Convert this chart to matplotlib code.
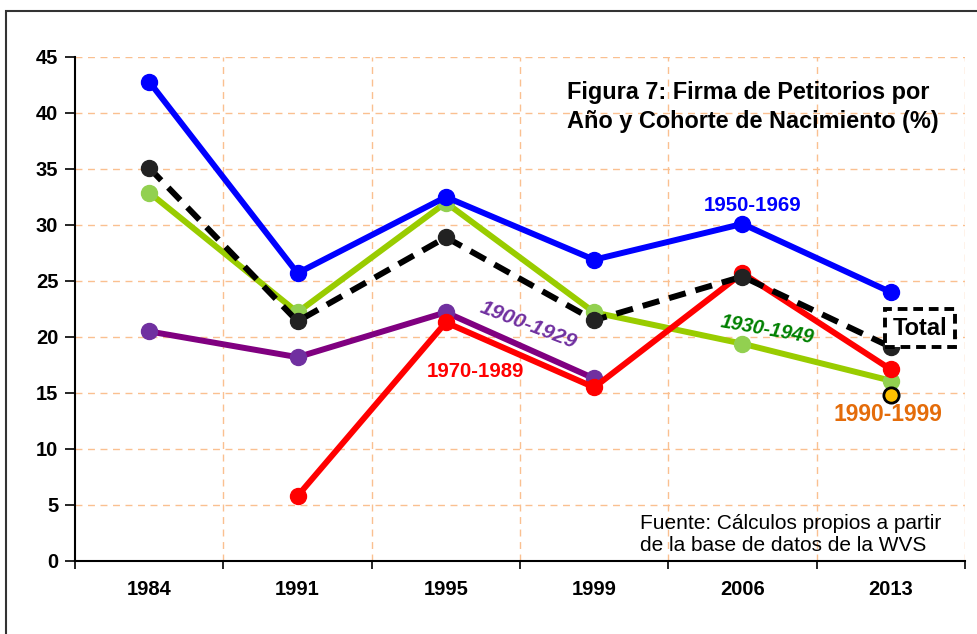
import matplotlib
matplotlib.use("Agg")
import matplotlib.pyplot as plt
import numpy as np
from matplotlib.patches import Rectangle

plt.rcParams['font.family'] = ['Liberation Sans', 'DejaVu Sans']

years = ["1984", "1991", "1995", "1999", "2006", "2013"]
c1950 = [42.8, 25.7, 32.5, 26.9, 30.1, 24.0]
total = [35.1, 21.4, 28.9, 21.5, 25.4, 19.1]
c1930 = [32.9, 22.2, 32.0, 22.2, 19.4, 16.1]
c1900 = [20.5, 18.2, 22.2, 16.3, None, None]
c1970 = [None, 5.8, 21.3, 15.5, 25.7, 17.1]
c1990 = [None, None, None, None, None, 14.8]

def arr(v):
    return np.array([np.nan if x is None else x for x in v], dtype=float)

fig = plt.figure(figsize=(9.77, 6.34), dpi=100)
ax = fig.add_axes([75/977, 1-561/634, (965-75)/977, (561-57)/634])

x = np.arange(len(years))
lw = 4.3
ms = 11.5
ax.plot(x, arr(c1900), color='#800080', lw=lw, marker='o', ms=ms, mfc='#7030A0', mec='#7030A0', zorder=3)
ax.plot(x, arr(c1970), color='#FF0000', lw=lw, marker='o', ms=ms, mfc='#FF0000', mec='#FF0000', zorder=4)
ax.plot(x, arr(c1930), color='#99CC00', lw=lw, marker='o', ms=ms, mfc='#92D050', mec='#92D050', zorder=3)
ax.plot(x, arr(total), color='#000000', lw=4.3, ls=(0, (2.9, 1.7)), marker='o', ms=ms, mfc='#222222', mec='#222222', zorder=5)
ax.plot(x, arr(c1950), color='#0000FF', lw=lw, marker='o', ms=ms, mfc='#0000FF', mec='#0000FF', zorder=6)
ax.plot(x, arr(c1990), ls='none', marker='o', ms=11, mfc='#FFC000', mec='#000000', mew=2, zorder=7)

ax.set_xlim(-0.5, 5.5)
ax.set_ylim(0, 45)
ax.set_yticks(np.arange(0, 46, 5))
ax.set_xticks(x)
ax.set_xticklabels(years)
ax.set_xticks(np.arange(-0.5, 5.6, 1), minor=True)
ax.tick_params(axis='x', which='major', length=0, pad=14, labelsize=14.5)
ax.tick_params(axis='x', which='minor', length=6, width=1.2, direction='out')
ax.tick_params(axis='y', length=7, width=1.2, direction='out', labelsize=14.5, pad=5)
for lab in ax.get_xticklabels() + ax.get_yticklabels():
    lab.set_fontweight('bold')

grid_kw = dict(color='#FAC090', lw=1.0, ls=(0, (5, 4)), zorder=1)
for yv in np.arange(5, 46, 5):
    ax.axhline(yv, **grid_kw)
for xv in np.arange(0.5, 5.6, 1):
    ax.axvline(xv, **grid_kw)

for s in ['top', 'right']:
    ax.spines[s].set_visible(False)
for s in ['left', 'bottom']:
    ax.spines[s].set_linewidth(1.5)
    ax.spines[s].set_color('#000000')

ax.text(0.553, 0.952, "Figura 7: Firma de Petitorios por\nAño y Cohorte de Nacimiento (%)",
        transform=ax.transAxes, ha='left', va='top', fontsize=16.9, fontweight='bold',
        linespacing=1.3, zorder=8)

ax.text(4.07, 31.7, "1950-1969", color='#0000FF', fontsize=14.7, fontweight='bold', ha='center', va='center', zorder=8)
ax.text(4.17, 20.6, "1930-1949", color='#008000', fontsize=14.3, fontweight='bold', style='italic',
        ha='center', va='center', rotation=-10, zorder=8)
ax.text(2.555, 21.1, "1900-1929", color='#7030A0', fontsize=15.3, fontweight='bold', style='italic',
        ha='center', va='center', rotation=-21, zorder=8)
ax.text(2.2, 16.96, "1970-1989", color='#FF0000', fontsize=14.7, fontweight='bold', ha='center', va='center', zorder=8)
ax.text(4.98, 13.1, "1990-1999", color='#E46C0A', fontsize=16.5, fontweight='bold', ha='center', va='center', zorder=8)
ax.text(5.195, 20.8, "Total", color='#000000', fontsize=17, fontweight='bold', ha='center', va='center', zorder=8,
        bbox=dict(boxstyle='square,pad=0.32', fc='white', ec='#000000', lw=2.8, ls=(0, (2.5, 1.5))))

ax.text(0.635, 0.0526, "Fuente: Cálculos propios a partir\nde la base de datos de la WVS",
        transform=ax.transAxes, ha='left', va='center', fontsize=15, linespacing=1.2, zorder=8)

fig.patches.append(Rectangle((6/977, -0.1), 1.1, 1 - 11/634 + 0.1, transform=fig.transFigure,
                             fill=False, ec='#333333', lw=1.5))

fig.savefig("out.png", dpi=100)
